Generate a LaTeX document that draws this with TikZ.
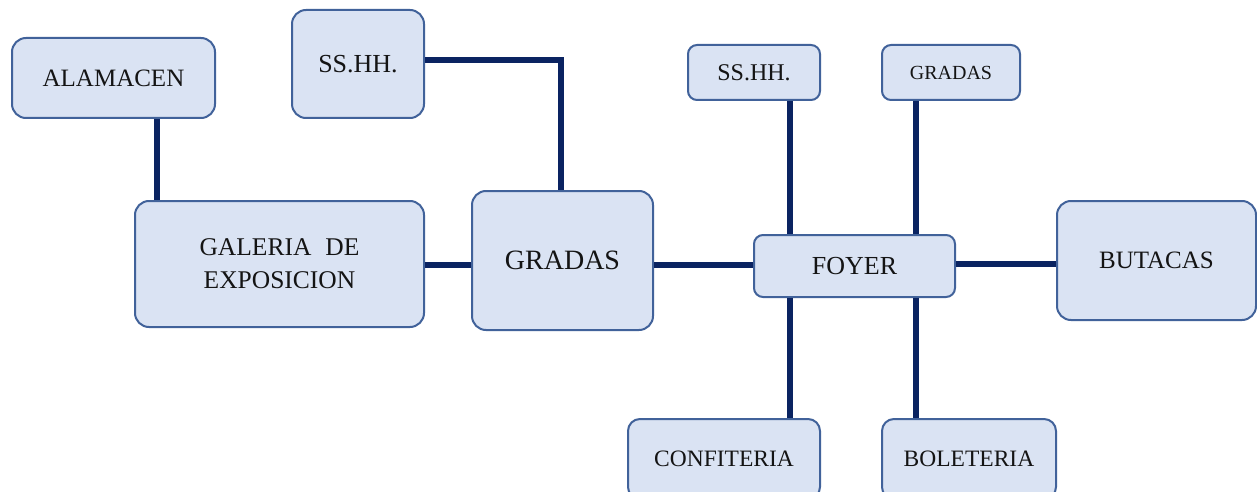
\documentclass[tikz,border=0pt]{standalone}
\usepackage{fontspec}
\setmainfont{Liberation Serif}
\definecolor{boxfill}{HTML}{DAE3F3}
\definecolor{boxline}{HTML}{41629A}
\definecolor{conncol}{HTML}{0A2361}
\begin{document}
\begin{tikzpicture}[x=1pt,y=-1pt,
  room/.style={draw=boxline, fill=boxfill, line width=2pt, rounded corners=#1, inner sep=0pt, align=center, text=black!92},
  room/.default=14pt,
  conn/.style={draw=conncol, line width=5.5pt}]
\path[use as bounding box, fill=white] (0,0) rectangle (1257,492);
\begin{scope}
\clip (0,0) rectangle (1257,492);
% connector reference coordinates
\coordinate (xa) at (157,0);
\coordinate (corner) at (561,60);
\coordinate (xl) at (790,0);
\coordinate (xr) at (916,0);
\coordinate (yg) at (0,265);
\coordinate (yb) at (0,264);

% nodes
\node[room, minimum width=203pt, minimum height=80pt, font=\fontsize{25}{30}\selectfont] (alam) at (113.5,78) {ALAMACEN};
\node[room, minimum width=132pt, minimum height=108pt, font=\fontsize{26}{30}\selectfont] (ss1) at (358,64) {SS.HH.};
\node[room, minimum width=289pt, minimum height=126pt, font=\fontsize{25.5}{33}\selectfont] (gal) at (279.5,264) {GALERIA\hspace{0.3em} DE\\EXPOSICION};
\node[room, minimum width=181pt, minimum height=139pt, font=\fontsize{28}{30}\selectfont] (gr1) at (562.5,260.5) {GRADAS};
\node[room=9pt, minimum width=132pt, minimum height=55pt, font=\fontsize{24}{28}\selectfont] (ss2) at (754,72.5) {SS.HH.};
\node[room=9pt, minimum width=138pt, minimum height=55pt, font=\fontsize{20}{24}\selectfont] (gr2) at (951,72.5) {GRADAS};
\node[room=9pt, minimum width=201pt, minimum height=62pt, font=\fontsize{26}{30}\selectfont] (foy) at (854.5,266) {FOYER};
\node[room, minimum width=199pt, minimum height=119pt, font=\fontsize{25}{30}\selectfont] (but) at (1156.5,260.5) {BUTACAS};
\node[room=12pt, minimum width=192pt, minimum height=80pt, font=\fontsize{23.5}{28}\selectfont] (conf) at (724,459) {CONFITERIA};
\node[room=12pt, minimum width=174pt, minimum height=80pt, font=\fontsize{23.5}{28}\selectfont] (bol) at (969,459) {BOLETERIA};

% connectors
\draw[conn] (alam.south -| xa) -- (gal.north -| xa);
\draw[conn, line join=miter] (ss1.east |- corner) -- (corner) -- (gr1.north -| corner);
\draw[conn] (gal.east |- yg) -- (gr1.west |- yg);
\draw[conn] (gr1.east |- yg) -- (foy.west |- yg);
\draw[conn] (foy.east |- yb) -- (but.west |- yb);
\draw[conn] (ss2.south -| xl) -- (foy.north -| xl);
\draw[conn] (gr2.south -| xr) -- (foy.north -| xr);
\draw[conn] (foy.south -| xl) -- (conf.north -| xl);
\draw[conn] (foy.south -| xr) -- (bol.north -| xr);
\end{scope}
\end{tikzpicture}
\end{document}
